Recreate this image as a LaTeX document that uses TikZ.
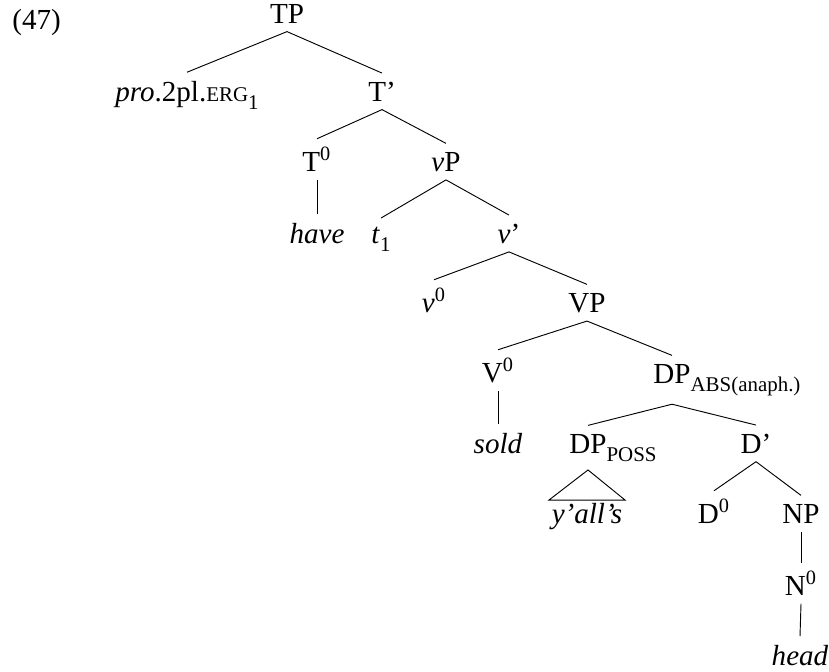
\documentclass[tikz,border=0pt]{standalone}
\usepackage{fontspec}
\setmainfont{Liberation Serif}
\usepackage{tikz}

\newcommand{\fakesc}[1]{{\fontsize{9}{10}\selectfont #1}}
\newcommand{\lowsub}[1]{\raisebox{-0.28em}{\fontsize{9}{10}\selectfont #1}}

\begin{document}
\begin{tikzpicture}[
				x=0.43pt, y=-0.43pt,
				cat/.style={anchor=base, inner sep=3.5pt, font=\fontsize{12.5}{14}\selectfont}
			]

			\useasboundingbox (0, 0) rectangle (829, 671);

			\node[cat, anchor=base west, inner sep=0pt] (ex) at (12, 29) {(47)};

			% levels of the tree
			\node[cat] (TP) at (287, 23) {TP};

			\node[cat] (pro) at (187, 101) {\textit{pro}.2pl.\fakesc{ERG}\lowsub{1}};
			\node[cat] (Tbar) at (382, 101) {T'};

			\node[cat] (T0) at (317, 171) {T\textsuperscript{0}};
			\node[cat] (vP) at (446, 171) {\textit{v}P};

			\node[cat] (have) at (317, 243) {\textit{have}};
			\node[cat] (t1) at (381, 243) {\textit{t}\lowsub{1}};
			\node[cat] (vbar) at (509, 243) {\textit{v}'};

			\node[cat] (v0) at (434, 312) {\textit{v}\textsuperscript{0}};
			\node[cat] (VP) at (587, 312) {VP};

			\node[cat] (V0) at (498, 382) {V\textsuperscript{0}};
			\node[cat] (DPabs) at (672, 383) {DP\rlap{\lowsub{ABS(anaph.)}}};

			\node[cat] (sold) at (498, 453) {\textit{sold}};
			\node[cat] (DPposs) at (588, 453) {DP\rlap{\lowsub{POSS}}};
			\node[cat] (Dbar) at (756, 453) {D'};

			\node[cat, inner sep=1pt] (yall) at (587, 523) {\textit{y'all's}};
			\node[cat] (D0) at (714, 523) {D\textsuperscript{0}};
			\node[cat] (NP) at (801, 523) {NP};

			\node[cat] (N0) at (801, 595) {N\textsuperscript{0}};

			\node[cat] (head) at (800, 665) {\textit{head}};

			\foreach \a/\b in {TP/pro, TP/Tbar, Tbar/T0, Tbar/vP, T0/have, vP/t1, vP/vbar,
					vbar/v0, vbar/VP, VP/V0, VP/DPabs, V0/sold, DPabs/DPposs, DPabs/Dbar,
					Dbar/D0, Dbar/NP, NP/N0, N0/head} {
					\draw (\a.south) -- (\b.north);
				}

			\draw (DPposs.south) -- (yall.north west) -- (yall.north east) -- cycle;

		\end{tikzpicture}
\end{document}
